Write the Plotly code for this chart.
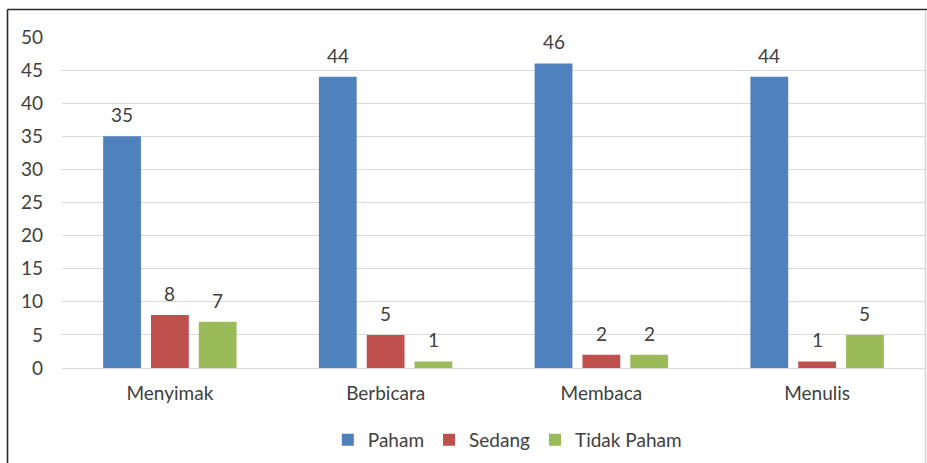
import plotly.graph_objects as go

categories = ["Menyimak", "Berbicara", "Membaca", "Menulis"]
paham = [35, 44, 46, 44]
sedang = [8, 5, 2, 1]
tidak_paham = [7, 1, 2, 5]
series_names = ["Paham", "Sedang", "Tidak Paham"]
colors = ["#4F81BD", "#C0504D", "#9BBB59"]
y_ticks = [0, 5, 10, 15, 20, 25, 30, 35, 40, 45, 50]

FONT = "Lato, Carlito, 'Liberation Sans', sans-serif"
TXT = "#404040"
FS = 19

L, R, T, B = 62, 2, 37, 95
W, H = 927, 463
pw, ph = W - L - R, H - T - B
BARGAP, GROUPGAP = 0.335, 0.21
cat_px = pw / len(categories)
slot_px = cat_px * (1 - BARGAP) / 3

def px_x(x):
    return (x - L) / pw

def px_y(y):
    return (H - B - y) / ph

fig = go.Figure()
annotations = []
for i, (name, vals, col) in enumerate(zip(series_names, [paham, sedang, tidak_paham], colors)):
    fig.add_trace(go.Bar(
        x=categories, y=vals, name=name,
        marker=dict(color=col, line=dict(width=0)),
    ))
    for c, v in zip(categories, vals):
        annotations.append(dict(
            x=c, y=v, xref="x", yref="y", text=str(v), showarrow=False,
            xanchor="center", yanchor="bottom", xshift=(i - 1) * slot_px, yshift=8,
            font=dict(size=FS, color=TXT, family=FONT),
        ))

border_dark = dict(color="#2A2A2A", width=1.6)
shapes = [
    dict(type="line", xref="paper", yref="paper", x0=px_x(7.5), x1=px_x(927), y0=px_y(9.5), y1=px_y(9.5),
         line=border_dark, layer="below"),
    dict(type="line", xref="paper", yref="paper", x0=px_x(7.5), x1=px_x(7.5), y0=px_y(9.5), y1=px_y(480),
         line=border_dark, layer="below"),
    dict(type="line", xref="paper", yref="paper", x0=px_x(925.5), x1=px_x(925.5), y0=px_y(10), y1=px_y(480),
         line=dict(color="#D4D4D4", width=1.5), layer="below"),
]

fig.update_layout(
    width=W, height=H,
    margin=dict(l=L, r=R, t=T, b=B, pad=0, autoexpand=False),
    paper_bgcolor="white", plot_bgcolor="white",
    barmode="group", bargap=BARGAP, bargroupgap=GROUPGAP,
    font=dict(family=FONT, size=FS, color=TXT),
    showlegend=True,
    legend=dict(orientation="h", x=0.516, xanchor="center", y=px_y(440), yanchor="middle",
                font=dict(size=FS, color=TXT), itemwidth=30, traceorder="normal"),
    xaxis=dict(showgrid=False, showline=False, zeroline=False, ticks="",
               tickfont=dict(size=FS, color=TXT), ticklabelstandoff=12, fixedrange=True),
    yaxis=dict(range=[0, 50], tickvals=y_ticks, showgrid=True, gridcolor="#D9D9D9", gridwidth=1,
               zeroline=True, zerolinecolor="#D9D9D9", zerolinewidth=1, showline=False,
               ticks="", tickfont=dict(size=FS, color=TXT), ticklabelstandoff=18),
    annotations=annotations,
    shapes=shapes,
)

fig.write_html("out.html", config={"displayModeBar": False},
               post_script="document.body.style.margin='0';document.body.style.overflow='hidden';")
